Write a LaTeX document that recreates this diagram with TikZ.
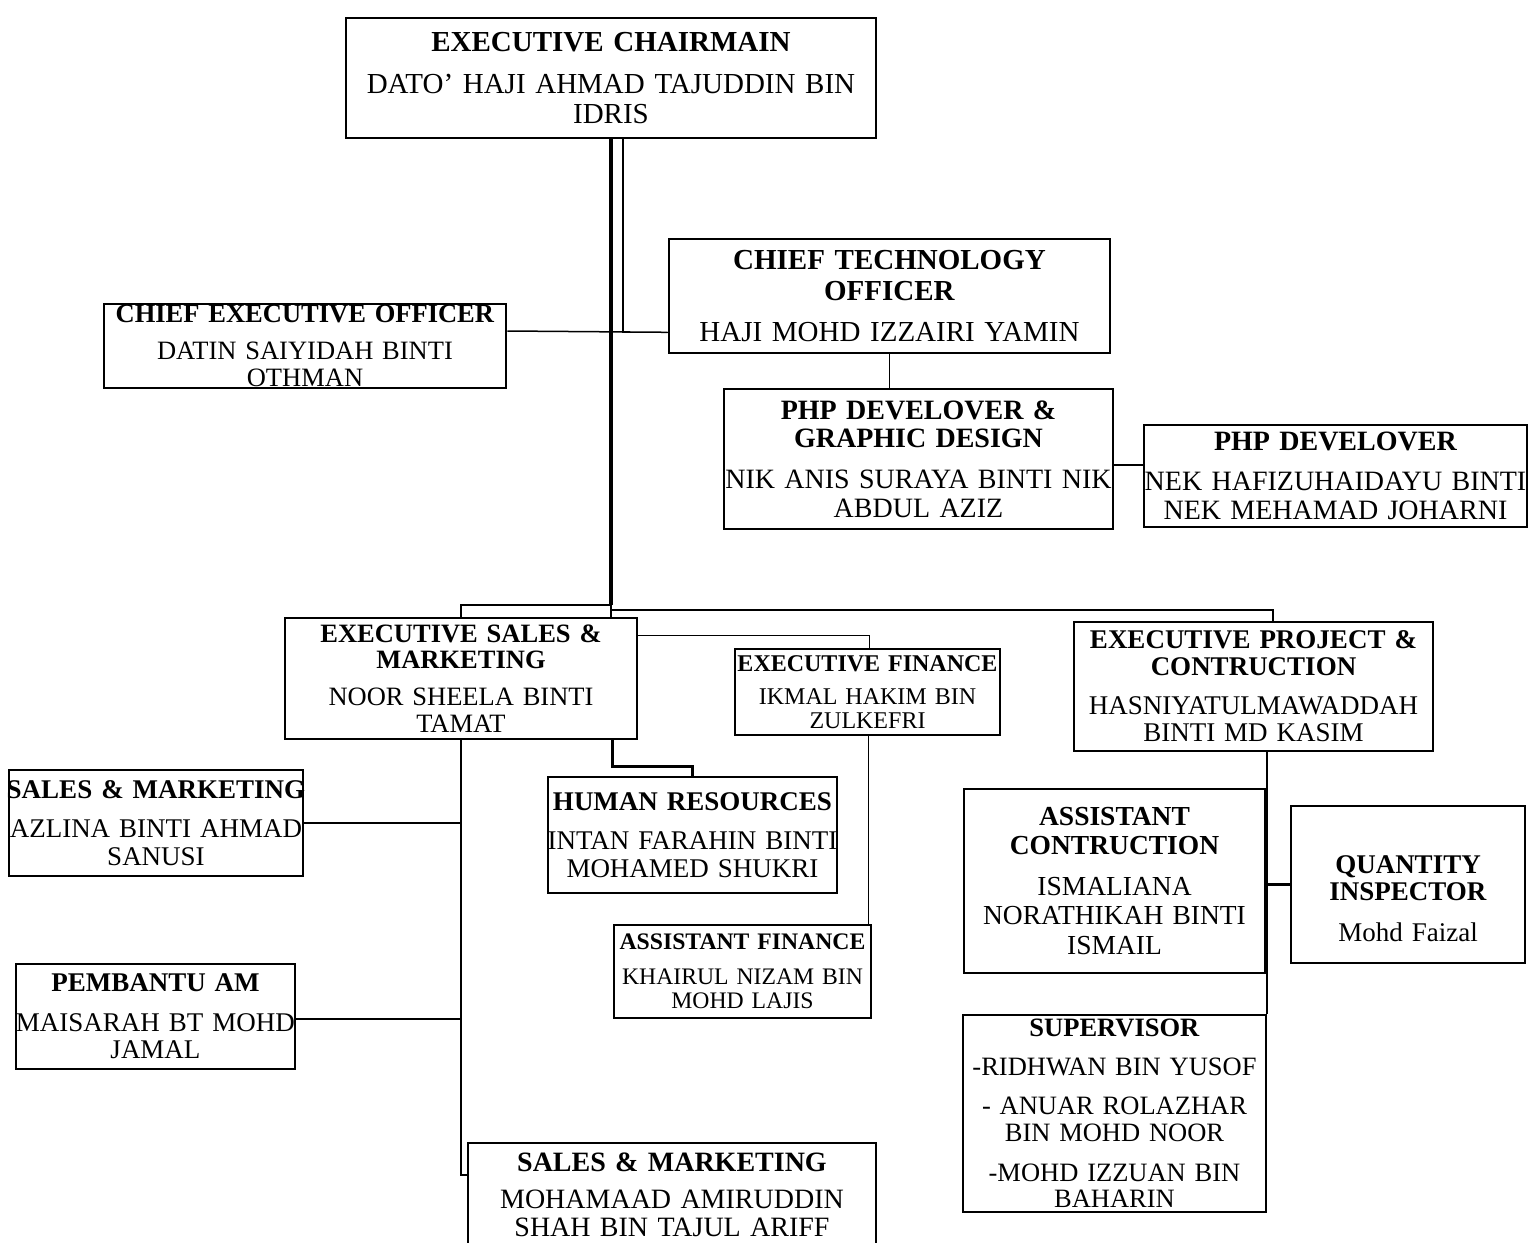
\documentclass[tikz,border=0pt]{standalone}
\usepackage{fontspec}
\setmainfont{Liberation Serif}

\begin{document}
\begin{tikzpicture}[
    x=1pt, y=-1pt,
    post/.style={rectangle, draw, line width=2.6pt, align=center, inner xsep=-12pt, inner ysep=1pt, font=\fontsize{27}{27.5}\selectfont},
    link/.style={line width=1.5pt},
    heavy/.style={line width=2.6pt},
    trunk/.style={line width=4pt}
]
    \useasboundingbox (0,0) rectangle (1531,1242);
    \clip (0,0) rectangle (1531,1242);

    % Top management
    \node[post, text width=554pt, minimum height=120pt, font=\fontsize{29}{30.5}\selectfont] (chair) at (611,78) {\textbf{EXECUTIVE CHAIRMAIN}\\[0.4em]DATO’ HAJI AHMAD TAJUDDIN BIN\\IDRIS};
    \node[post, text width=465pt, minimum height=114pt, font=\fontsize{29}{31}\selectfont] (cto) at (889.5,296) {\textbf{CHIEF TECHNOLOGY\\OFFICER}\\[0.35em]HAJI MOHD IZZAIRI YAMIN};
    \node[post, text width=426pt, minimum height=84pt, inner ysep=0pt, font=\fontsize{26.5}{26.5}\selectfont] (ceo) at (305,346) {\textbf{CHIEF EXECUTIVE OFFICER}\\[0.4em]DATIN SAIYIDAH BINTI\\OTHMAN};

    % Developers
    \node[post, text width=413pt, minimum height=140pt, font=\fontsize{28}{28.5}\selectfont] (php) at (918.5,459) {\textbf{PHP DEVELOVER \&\\GRAPHIC DESIGN}\\[0.45em]NIK ANIS SURAYA BINTI NIK\\ABDUL AZIZ};
    \node[post, text width=407pt, minimum height=102pt, font=\fontsize{28}{29}\selectfont] (phpdev) at (1335.5,476) {\textbf{PHP DEVELOVER}\\[0.4em]NEK HAFIZUHAIDAYU BINTI\\NEK MEHAMAD JOHARNI};

    % Executives
    \node[post, text width=376pt, minimum height=121pt, font=\fontsize{26.5}{26.5}\selectfont] (esm) at (461,678.5) {\textbf{EXECUTIVE SALES \&\\MARKETING}\\[0.4em]NOOR SHEELA BINTI\\TAMAT};
    \node[post, text width=289pt, minimum height=86pt, font=\fontsize{24}{24}\selectfont] (efin) at (867.5,692) {\textbf{EXECUTIVE FINANCE}\\[0.4em]IKMAL HAKIM BIN\\ZULKEFRI};
    \node[post, text width=383pt, minimum height=129pt, font=\fontsize{27}{27}\selectfont] (epc) at (1253.5,686.5) {\textbf{EXECUTIVE PROJECT \&\\CONTRUCTION}\\[0.45em]HASNIYATULMAWADDAH\\BINTI MD KASIM};

    % Staff
    \node[post, text width=318pt, minimum height=106pt] (sales) at (156,823) {\textbf{SALES \& MARKETING}\\[0.45em]AZLINA BINTI AHMAD\\SANUSI};
    \node[post, text width=313pt, minimum height=116pt] (hr) at (692.5,835) {\textbf{HUMAN RESOURCES}\\[0.45em]INTAN FARAHIN BINTI\\MOHAMED SHUKRI};
    \node[post, text width=325pt, minimum height=184pt, font=\fontsize{27.5}{29.5}\selectfont] (asst) at (1114.5,881) {\textbf{ASSISTANT\\CONTRUCTION}\\[0.4em]ISMALIANA\\NORATHIKAH BINTI\\ISMAIL};
    \node[post, text width=258pt, minimum height=157pt] (qty) at (1408,884.5) {\rule{0pt}{46pt}\textbf{QUANTITY\\INSPECTOR}\\[0.5em]Mohd Faizal};
    \node[post, text width=281pt, minimum height=93pt, font=\fontsize{23.7}{24}\selectfont] (afin) at (742.5,971.5) {\textbf{ASSISTANT FINANCE}\\[0.45em]KHAIRUL NIZAM BIN\\MOHD LAJIS};
    \node[post, text width=303pt, minimum height=105pt] (pam) at (155.5,1016.5) {\textbf{PEMBANTU AM}\\[0.45em]MAISARAH BT MOHD\\JAMAL};
    \node[post, text width=327pt, minimum height=197pt, font=\fontsize{26.5}{26.5}\selectfont] (sup) at (1114.5,1113.5) {\textbf{SUPERVISOR}\\[0.45em]-RIDHWAN BIN YUSOF\\[0.5em]- ANUAR ROLAZHAR\\BIN MOHD NOOR\\[0.5em]-MOHD IZZUAN BIN\\BAHARIN};
    \node[post, text width=432pt, minimum height=104pt, font=\fontsize{28}{28.5}\selectfont] (sales2) at (672,1195) {\textbf{SALES \& MARKETING}\\[0.3em]MOHAMAAD AMIRUDDIN\\SHAH BIN TAJUL ARIFF};

    % Chairman to chiefs
    \coordinate (hub) at (611,605);
    \draw[trunk] (chair.south) -- (hub);
    \draw[link] ([xshift=12pt]chair.south) |- ([yshift=22pt]cto.south west);
    \draw[link] ([yshift=15pt]ceo.east) -- ([yshift=22pt]cto.south west);
    \draw[link] (cto.south) -- (cto.south |- php.north);
    \draw[link] ([yshift=-6pt]php.east) -- ([yshift=-6pt]php.east -| phpdev.west);

    % Hub to executives
    \draw[link] (hub) -| (esm.north);
    \draw[link] (hub) -- (hub |- esm.north);
    \draw[link] ([yshift=-5pt]hub) -| ([xshift=19.5pt]epc.north);
    \draw[link] ([yshift=-19pt]esm.north east) -| ([xshift=2pt]efin.north);
    \draw[link] ([xshift=1pt]efin.south) -- ([xshift=1pt]efin.south |- afin.north);

    % Sales branch
    \draw[heavy] ([xshift=-26pt]esm.south east) -- ++(0,26) -| (hr.north);
    \draw[heavy] (esm.south) |- ([yshift=20pt]sales2.west);
    \draw[heavy] (sales.east) -- (sales.east -| esm.south);
    \draw[heavy] ([yshift=-2.5pt]pam.east) -- ([yshift=-2.5pt]pam.east -| esm.south);

    % Project branch
    \draw[heavy] ([xshift=13.5pt]epc.south) -- ([xshift=13.5pt]epc.south |- qty.west) coordinate (qjoin) -- (qty.west);
    \draw[link] (qjoin) -- (qjoin |- sup.north);

\end{tikzpicture}
\end{document}
